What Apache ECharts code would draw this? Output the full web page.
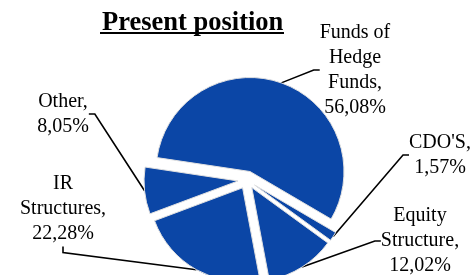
<!DOCTYPE html>
<html><head><meta charset="utf-8">
<script src="https://cdn.jsdelivr.net/npm/echarts@6/dist/echarts.min.js"></script>
<style>html,body{margin:0;padding:0;background:#fff}#c{width:474px;height:275px}</style>
</head><body><div id="c"></div>
<script>
const categories = ['Funds of Hedge Funds', "CDO'S", 'Equity Structure', 'IR Structures', 'Other'];
const labelNames = ['Funds of\nHedge\nFunds,', "CDO'S,", 'Equity\nStructure,', 'IR\nStructures,', 'Other,'];
const values = [56.08, 1.57, 12.02, 22.28, 8.05];
const titleText = 'Present position';

const labelPos = [[355, 70], [440, 155], [420, 241], [63, 209], [63, 114]];
const labelSide = ['left', 'left', 'left', 'bottom', 'right'];

const chart = echarts.init(document.getElementById('c'), null, {renderer: 'canvas'});
const FONT = '"Liberation Serif", "Times New Roman", serif';
const CENTER = [247, 180], R = 94, OFFSET = 9, START = 171.5;
chart.setOption({
  animation: false,
  title: {
    text: titleText, left: 97, top: 5,
    textStyle: {fontFamily: FONT, fontSize: 26.5, fontWeight: 'bold', color: '#000'}
  },
  graphic: [{type: 'line', shape: {x1: 100, y1: 33, x2: 284, y2: 33}, style: {stroke: '#000', lineWidth: 2}}],
  series: [{
    type: 'pie', center: CENTER, radius: R, startAngle: START,
    selectedMode: 'multiple', selectedOffset: OFFSET, silent: true,
    itemStyle: {color: '#0b46a6', borderColor: '#e0e0e0', borderWidth: 1},
    label: {show: false}, labelLine: {show: false},
    data: categories.map((n, i) => ({name: n, value: values[i], selected: true}))
  }, {
    type: 'pie', center: CENTER, radius: R + OFFSET, startAngle: START, silent: true,
    itemStyle: {color: 'rgba(0,0,0,0)', borderWidth: 0},
    label: {
      show: true, position: 'outside',
      formatter: p => labelNames[p.dataIndex] + '\n' + values[p.dataIndex].toFixed(2).replace('.', ',') + '%',
      fontFamily: FONT, fontSize: 20, lineHeight: 25, color: '#000', align: 'center'
    },
    labelLine: {show: true, length: 10, length2: 6, lineStyle: {color: '#000', width: 1.6}},
    labelLayout: function (p) {
      const i = p.dataIndex;
      const x = labelPos[i][0], y = labelPos[i][1];
      const w = p.labelRect.width, h = p.labelRect.height;
      const res = {x: x, y: y, align: 'center', verticalAlign: 'middle'};
      const pts = p.labelLinePoints;
      if (pts) {
        const a = pts[0];
        const L = 6;
        let end, mid;
        if (labelSide[i] === 'left') { end = [x - w / 2, y]; mid = [end[0] - L, y]; }
        else if (labelSide[i] === 'right') { end = [x + w / 2, y]; mid = [end[0] + L, y]; }
        else { end = [x, y + h / 2]; mid = [x, end[1] + L]; }
        res.labelLinePoints = [a, mid, end];
      }
      return res;
    },
    data: categories.map((n, i) => ({name: n, value: values[i]}))
  }]
});
</script></body></html>
